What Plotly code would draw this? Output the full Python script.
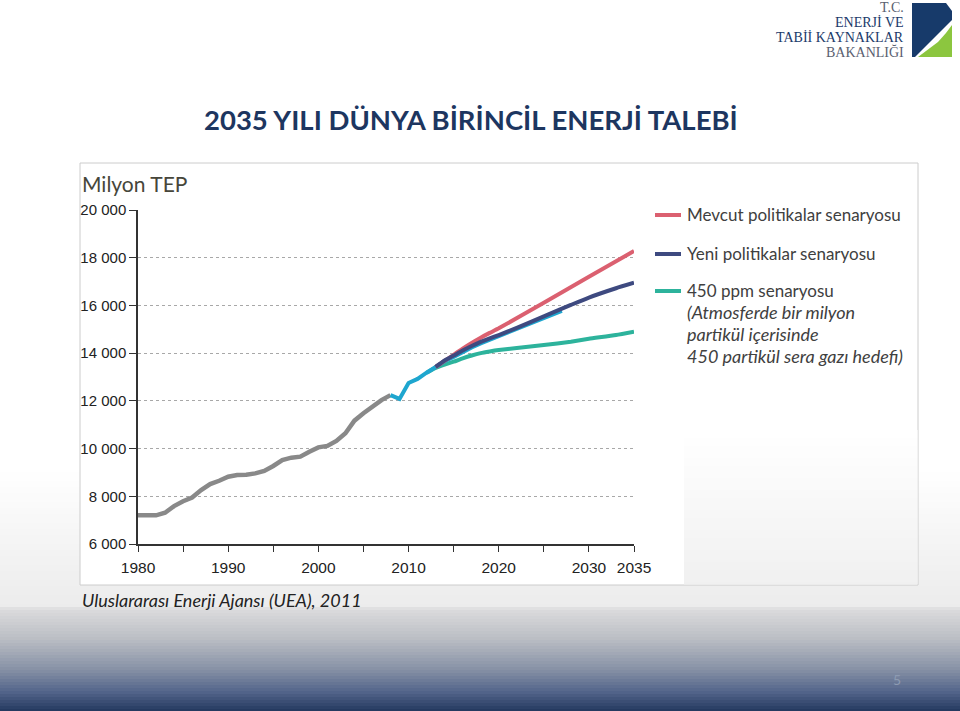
import plotly.graph_objects as go

# ---------------- data ----------------
hist_years = list(range(1980, 2009))
hist_vals = [7200, 7200, 7200, 7310, 7590, 7790, 7950, 8260, 8510, 8650,
             8820, 8890, 8900, 8960, 9060, 9270, 9520, 9620, 9660, 9870,
             10050, 10110, 10320, 10640, 11170, 11480, 11750, 12030, 12240]

near_years = list(range(2008, 2028))
near_vals = [12240, 12080, 12750, 12920, 13180, 13420, 13660, 13840, 14050, 14240,
             14410, 14560, 14700, 14850, 15000, 15160, 15320, 15470, 15620, 15770]

cur_years = [2013, 2014, 2015, 2016, 2017, 2018, 2019, 2020, 2025, 2030, 2035]
cur_vals = [13420, 13680, 13930, 14190, 14430, 14650, 14850, 15040, 16110, 17200, 18280]

new_years = [2013, 2014, 2015, 2016, 2017, 2018, 2019, 2020, 2022, 2025, 2028, 2030, 2033, 2035]
new_vals = [13420, 13690, 13900, 14110, 14300, 14470, 14620, 14760, 15060, 15540, 16020, 16330, 16720, 16950]

p450_years = [2012, 2013, 2014, 2015, 2016, 2017, 2018, 2019, 2020, 2022, 2025, 2028, 2030, 2033, 2035]
p450_vals = [13180, 13380, 13520, 13640, 13780, 13900, 14000, 14070, 14130, 14220, 14340, 14480, 14600, 14760, 14900]

y_ticks = [6000, 8000, 10000, 12000, 14000, 16000, 18000, 20000]
y_labels = ["6 000", "8 000", "10 000", "12 000", "14 000", "16 000", "18 000", "20 000"]
x_ticks = list(range(1980, 2036, 5))
x_labels = ["1980", "", "1990", "", "2000", "", "2010", "", "2020", "", "2030", "2035"]

legend_names = ["Mevcut politikalar senaryosu", "Yeni politikalar senaryosu", "450 ppm senaryosu"]

# ---------------- styling ----------------
C_GRAY = "#898989"
C_CYAN = "#1ea6cf"
C_RED = "#db6070"
C_NAVY = "#3e4a80"
C_GREEN = "#2db39c"
NARROW = "Liberation Sans Narrow, Liberation Sans, Arial, sans-serif"
CAL = "Lato, Carlito, Open Sans, sans-serif"

L, R, T, B = 138, 634, 210, 544
W, H = 960, 711


def X(px):
    return (px - L) / (R - L)


def Y(py):
    return (B - py) / (B - T)


def hexmix(c1, c2, t):
    a = [int(c1[i:i + 2], 16) for i in (1, 3, 5)]
    b = [int(c2[i:i + 2], 16) for i in (1, 3, 5)]
    return "#%02x%02x%02x" % tuple(round(a[k] + (b[k] - a[k]) * t) for k in range(3))


def grad_color(stops, y):
    for (y0, c0), (y1, c1) in zip(stops, stops[1:]):
        if y0 <= y <= y1:
            return hexmix(c0, c1, (y - y0) / (y1 - y0) if y1 > y0 else 0)
    return stops[-1][1]


fig = go.Figure()

fig.add_trace(go.Scatter(x=hist_years, y=hist_vals, mode="lines",
                         line=dict(color=C_GRAY, width=4.5), showlegend=False))
fig.add_trace(go.Scatter(x=p450_years, y=p450_vals, mode="lines",
                         line=dict(color=C_GREEN, width=4, shape="spline", smoothing=0.5), showlegend=False))
fig.add_trace(go.Scatter(x=near_years, y=near_vals, mode="lines",
                         line=dict(color=C_CYAN, width=4), showlegend=False))
fig.add_trace(go.Scatter(x=cur_years, y=cur_vals, mode="lines",
                         line=dict(color=C_RED, width=4, shape="spline", smoothing=0.5), showlegend=False))
fig.add_trace(go.Scatter(x=new_years, y=new_vals, mode="lines",
                         line=dict(color=C_NAVY, width=4, shape="spline", smoothing=0.5), showlegend=False))

shapes = []
# slide background gradient
stops = [(0, "#ffffff"), (470, "#ffffff"), (560, "#f2f2f2"), (607, "#ececec"),
         (609, "#dcdcdd"), (640, "#b9bcc3"), (670, "#8590a5"), (692, "#52648a"), (711, "#24395f")]
step = 3
for y0 in range(460, 711, step):
    shapes.append(dict(type="rect", xref="paper", yref="paper", layer="below",
                       x0=X(0), x1=X(W), y0=Y(y0), y1=Y(min(y0 + step, 711) + 0.5),
                       fillcolor=grad_color(stops, y0 + step / 2), line=dict(width=0)))
# chart frame
shapes.append(dict(type="rect", xref="paper", yref="paper", layer="below",
                   x0=X(80), x1=X(918), y0=Y(585), y1=Y(163),
                   fillcolor="#ffffff", line=dict(color="#cccccc", width=1)))
# subtle gray at lower right of frame
for y0 in range(430, 584, 4):
    shapes.append(dict(type="rect", xref="paper", yref="paper", layer="below",
                       x0=X(684), x1=X(917.5), y0=Y(y0), y1=Y(min(y0 + 4, 584.5)),
                       fillcolor=hexmix("#ffffff", "#f0f0f0", (y0 - 430) / 154), line=dict(width=0)))

# legend line samples
for py, col in [(215, C_RED), (254, C_NAVY), (291, C_GREEN)]:
    shapes.append(dict(type="line", xref="paper", yref="paper",
                       x0=X(655), x1=X(681), y0=Y(py), y1=Y(py),
                       line=dict(color=col, width=4)))

# logo
def pth(pts):
    return "M " + " L ".join("%f,%f" % (X(a), Y(b)) for a, b in pts) + " Z"

shapes.append(dict(type="path", xref="paper", yref="paper",
                   path=pth([(912, 3), (946, 3), (952, 11), (952, 20), (915, 57), (912, 57)]),
                   fillcolor="#173a6a", line=dict(width=0)))
shapes.append(dict(type="path", xref="paper", yref="paper",
                   path=pth([(952, 25), (952, 57), (918, 57), (930, 48), (938, 42), (946, 33)]),
                   fillcolor="#8cc63f", line=dict(width=0)))

annotations = []


def ann(text, px, py, size, color, family=CAL, xanchor="left", yanchor="middle"):
    annotations.append(dict(text=text, xref="paper", yref="paper", x=X(px), y=Y(py),
                            xanchor=xanchor, yanchor=yanchor, showarrow=False,
                            font=dict(size=size, color=color, family=family)))


ann("<b>2035 YILI DÜNYA BİRİNCİL ENERJİ TALEBİ</b>", 471, 119, 27.5, "#1d3660", xanchor="center")
ann("Milyon TEP", 80, 183, 21, "#46463a")
ann(legend_names[0], 685, 215, 17, "#404040")
ann(legend_names[1], 685, 253, 17, "#404040")
ann(legend_names[2], 685, 290, 17, "#404040")
ann("<i>(Atmosferde bir milyon</i>", 685, 312, 18, "#404040")
ann("<i>partikül içerisinde</i>", 685, 334, 18, "#404040")
ann("<i>450 partikül sera gazı hedefi)</i>", 685, 356, 18, "#404040")
ann("<i>Uluslararası Enerji Ajansı (UEA), 2011</i>", 80, 600, 18, "#222222")
ann("5", 897, 679, 14, "#8d9bb2", xanchor="center")

SERIF = "Liberation Serif, DejaVu Serif, serif"
ann("T.C.", 906, 7, 14, "#5a6070", family=SERIF, xanchor="right")
ann("ENERJİ VE", 906, 22, 14, "#1b3a6a", family=SERIF, xanchor="right")
ann("TABİİ KAYNAKLAR", 906, 37, 14, "#1b3a6a", family=SERIF, xanchor="right")
ann("BAKANLIĞI", 906, 52, 14, "#5a6070", family=SERIF, xanchor="right")

fig.update_layout(
    width=W, height=H, autosize=False,
    margin=dict(l=L, r=W - R, t=T, b=H - B, pad=0),
    paper_bgcolor="#ffffff", plot_bgcolor="rgba(0,0,0,0)",
    shapes=shapes, annotations=annotations, showlegend=False,
)
fig.update_xaxes(range=[1980, 2035], tickvals=x_ticks, ticktext=x_labels,
                 showgrid=False, zeroline=False, showline=True, linecolor="#333333", linewidth=1.5,
                 ticks="outside", ticklen=6, tickwidth=1.3, tickcolor="#333333",
                 ticklabelstandoff=3,
                 tickfont=dict(family=NARROW, size=15.5, color="#222222"))
fig.update_yaxes(range=[6000, 20000], tickvals=y_ticks, ticktext=y_labels,
                 showgrid=True, gridcolor="#a8a8a8", gridwidth=1, griddash="3px,3px",
                 zeroline=False, showline=True, linecolor="#333333", linewidth=1.5,
                 ticks="outside", ticklen=7, tickwidth=1.3, tickcolor="#333333",
                 tickfont=dict(family=NARROW, size=15, color="#222222"))

fig.write_html("out.html")
